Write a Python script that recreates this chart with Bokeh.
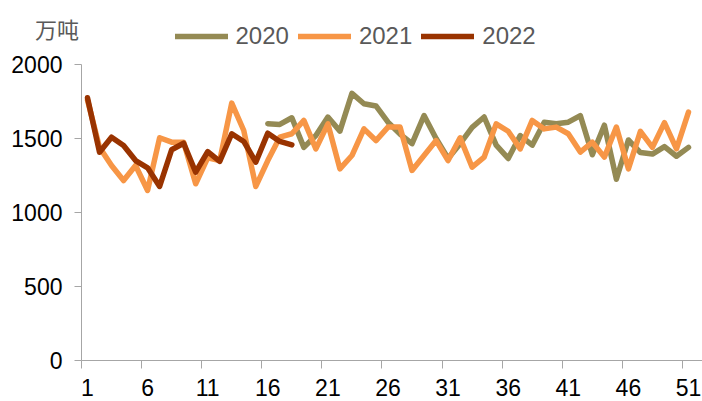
from bokeh.plotting import figure
from bokeh.models import Range1d, FixedTicker, LinearAxis, Legend, LegendItem, Label
from bokeh.embed import file_html
from bokeh.resources import INLINE

# ---- data (万吨, weekly) ----
weeks_2021 = list(range(1, 52))
weeks_2020 = list(range(16, 52))
weeks_2022 = list(range(1, 19))

v2020 = [1600, 1595, 1640, 1440, 1520, 1645, 1550, 1805, 1735, 1720,
         1610, 1530, 1465, 1655, 1500, 1365, 1465, 1575, 1645, 1455,
         1365, 1520, 1455, 1610, 1600, 1610, 1655, 1390, 1590, 1225,
         1490, 1405, 1395, 1445, 1380, 1440]
v2021 = [1760, 1440, 1318, 1216, 1318, 1149, 1505, 1475, 1475, 1194,
         1369, 1351, 1739, 1554, 1176, 1351, 1509, 1532, 1622, 1430,
         1599, 1295, 1385, 1565, 1486, 1577, 1577, 1284, 1385, 1486,
         1351, 1505, 1306, 1374, 1599, 1549, 1430, 1622, 1565, 1577,
         1532, 1408, 1475, 1374, 1577, 1295, 1548, 1440, 1607, 1430,
         1678]
v2022 = [1775, 1407, 1509, 1453, 1351, 1302, 1176, 1424, 1468, 1272,
         1412, 1345, 1532, 1480, 1340, 1536, 1480, 1457]

series_names = ["2020", "2021", "2022"]
colors = ["#948A54", "#F79646", "#993300"]
y_ticks = [0, 500, 1000, 1500, 2000]
x_label_ticks = [1, 6, 11, 16, 21, 26, 31, 36, 41, 46, 51]
x_boundary_ticks = [t - 0.5 for t in x_label_ticks]
unit_label = "万吨"

AXIS_GRAY = "#A6A6A6"
FONT = "Liberation Sans"

W, H = 702, 401
# frame covers the whole canvas; axes are pinned with fixed_location
p = figure(width=W, height=H, output_backend="svg", toolbar_location=None,
           x_range=Range1d(-6.238, 52.165), y_range=Range1d(-277.0, 2432.4),
           x_axis_location=None, y_axis_location=None,
           min_border=0, min_border_left=0, min_border_right=0,
           min_border_top=0, min_border_bottom=0)
p.outline_line_color = None
p.background_fill_color = "white"
p.border_fill_color = "white"
p.grid.grid_line_color = None

# y axis
yaxis = LinearAxis(ticker=FixedTicker(ticks=y_ticks), fixed_location=0.5,
                   bounds=(0, 2000))
yaxis.axis_line_color = AXIS_GRAY
yaxis.major_tick_line_color = AXIS_GRAY
yaxis.major_tick_in = 0
yaxis.major_tick_out = 7
yaxis.minor_tick_line_color = None
yaxis.major_label_standoff = 12
yaxis.major_label_text_font = FONT
yaxis.major_label_text_font_size = "23px"
yaxis.major_label_text_color = "#000000"
p.add_layout(yaxis, "left")

# x axis: line and tick marks at category boundaries (no labels)
xaxis_ticks = LinearAxis(ticker=FixedTicker(ticks=x_boundary_ticks),
                         fixed_location=0, bounds=(0.49, 52.165))
xaxis_ticks.axis_line_color = AXIS_GRAY
xaxis_ticks.major_tick_line_color = AXIS_GRAY
xaxis_ticks.major_tick_in = 0
xaxis_ticks.major_tick_out = 8
xaxis_ticks.minor_tick_line_color = None
xaxis_ticks.major_label_overrides = {t: "" for t in x_boundary_ticks}
xaxis_ticks.major_label_text_font_size = "1px"
xaxis_ticks.major_label_standoff = 0
p.add_layout(xaxis_ticks, "below")

# x axis: labels at category centres
xaxis_labels = LinearAxis(ticker=FixedTicker(ticks=x_label_ticks),
                          fixed_location=0)
xaxis_labels.axis_line_color = None
xaxis_labels.major_tick_line_color = None
xaxis_labels.major_tick_in = 0
xaxis_labels.major_tick_out = 0
xaxis_labels.minor_tick_line_color = None
xaxis_labels.major_label_standoff = 18
xaxis_labels.major_label_text_font = FONT
xaxis_labels.major_label_text_font_size = "23px"
xaxis_labels.major_label_text_color = "#000000"
p.add_layout(xaxis_labels, "below")

renderers = []
for xs, ys, c in [(weeks_2020, v2020, colors[0]),
                  (weeks_2021, v2021, colors[1]),
                  (weeks_2022, v2022, colors[2])]:
    r = p.line(xs, ys, line_color=c, line_width=5.5,
               line_cap="round", line_join="round")
    renderers.append(r)

legend = Legend(items=[LegendItem(label=n, renderers=[r])
                       for n, r in zip(series_names, renderers)],
                location=(174.5, 351.5), orientation="horizontal",
                glyph_width=53, glyph_height=20, label_standoff=8,
                spacing=9, padding=0, margin=0,
                border_line_color=None, background_fill_alpha=0,
                label_text_font=FONT, label_text_font_size="24px",
                label_text_color="#595959")
p.add_layout(legend)

p.add_layout(Label(x=56.5, y=374, x_units="screen", y_units="screen",
                   text=unit_label, text_align="center", text_baseline="middle",
                   text_font="Noto Sans CJK SC", text_font_size="22px",
                   text_color="#595959"))

open("out.html", "w").write(file_html(p, INLINE))
